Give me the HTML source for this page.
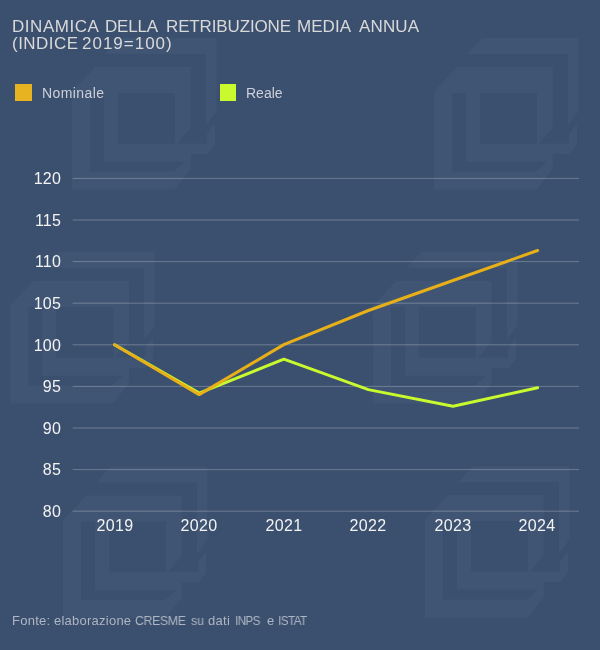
<!DOCTYPE html>
<html lang="it">
<head>
<meta charset="utf-8">
<title>Dinamica della retribuzione media annua</title>
<style>
  html, body { margin: 0; padding: 0; }
  body {
    width: 600px; height: 650px; overflow: hidden; position: relative;
    background: #3b4f6e;
    font-family: "Liberation Sans", sans-serif;
  }
  svg#bg { position: absolute; left: 0; top: 0; }
  .t { position: absolute; white-space: nowrap; line-height: 1; will-change: transform; }
  .title { font-size: 17px; color: #d9d9d9; }
  .leg { font-size: 14px; color: #cdd1d7; }
  .sw { position: absolute; width: 16.5px; height: 16.8px; top: 83.8px; }
  .yl { font-size: 16px; color: #f3f3f3; text-align: right; width: 50px; left: 10.8px; letter-spacing: 0.2px; }
  .xl { font-size: 16px; color: #f3f3f3; text-align: center; width: 60px; letter-spacing: 0.4px; }
  .foot { font-size: 13px; color: #aeb6c3; }
</style>
</head>
<body>
<svg id="bg" width="600" height="650" viewBox="0 0 600 650">
  <defs>
    <g id="wm" fill="#405574">
      <path d="M48 0H144.6V73.6L133.8 87.4V16H33Z"/>
      <path fill-rule="evenodd" d="M23 29H118.7V89.7L105 105.6H135V95.6L143 85.6V106.6L135.6 116H118.7V131.3L103 151.4H0V53.5Z M46 55H103V105.8H46Z M18 55H32V123.8H113L102 133.4H18Z"/>
    </g>
  </defs>
  <use href="#wm" x="72" y="38"/>
  <use href="#wm" x="434" y="38"/>
  <use href="#wm" x="10.3" y="252"/>
  <use href="#wm" x="373" y="252"/>
  <use href="#wm" x="63" y="466.5"/>
  <use href="#wm" x="425" y="466"/>
  <g stroke="#ffffff" stroke-opacity="0.25" stroke-width="1" fill="none">
    <path d="M72.6 178.4H579M72.6 220H579M72.6 261.6H579M72.6 303.2H579M72.6 344.8H579M72.6 386.4H579M72.6 428H579M72.6 469.6H579M72.6 511.2H579"/>
  </g>
  <polyline fill="none" stroke="#c8fa2d" stroke-width="3" stroke-linecap="round" stroke-linejoin="round"
    points="114.6,344.8 199.2,393.1 283.8,359.2 368.4,389.6 453,406.2 537.6,387.8"/>
  <polyline fill="none" stroke="#e7af18" stroke-width="3" stroke-linecap="round" stroke-linejoin="round"
    points="114.6,344.8 199.2,394.6 283.8,344.6 368.4,310.5 453,280.5 537.6,250.5"/>
</svg>


<div class="row"><span class="t title" style="top:17.5px;left:12.2px;letter-spacing:0.54px;">DINAMICA</span> <span class="t title" style="top:17.5px;left:105.3px;letter-spacing:-0.22px;">DELLA</span> <span class="t title" style="top:17.5px;left:165.5px;letter-spacing:-0.14px;">RETRIBUZIONE</span> <span class="t title" style="top:17.5px;left:297.4px;letter-spacing:0.05px;">MEDIA</span> <span class="t title" style="top:17.5px;left:358.6px;letter-spacing:0.15px;">ANNUA</span></div>
<div class="row"><span class="t title" style="top:35px;left:11.6px;letter-spacing:0.47px;">(INDICE</span> <span class="t title" style="top:35px;left:81.5px;letter-spacing:0.99px;">2019=100)</span></div>
<div class="row"><span class="t leg" style="top:86px;left:41.5px;letter-spacing:0.4px;">Nominale</span> <span class="t leg" style="top:86px;left:246px;">Reale</span></div>
<div class="row"><span class="t foot" style="top:614px;left:11.5px;letter-spacing:0.26px;">Fonte:</span> <span class="t foot" style="top:614px;left:54.1px;letter-spacing:0.24px;">elaborazione</span> <span class="t foot" style="top:614px;left:135.1px;letter-spacing:-0.4px;transform:scaleX(0.949);transform-origin:0 50%;">CRESME</span> <span class="t foot" style="top:614px;left:190.5px;transform:scaleX(0.946);transform-origin:0 50%;">su</span> <span class="t foot" style="top:614px;left:208.3px;letter-spacing:0.33px;">dati</span> <span class="t foot" style="top:614px;left:234.8px;letter-spacing:-0.7px;transform:scaleX(0.903);transform-origin:0 50%;">INPS</span> <span class="t foot" style="top:614px;left:266.7px;">e</span> <span class="t foot" style="top:614px;left:278.0px;letter-spacing:-0.7px;transform:scaleX(0.907);transform-origin:0 50%;">ISTAT</span></div>
<div class="sw" style="left:15.3px;background:#e8b320;"></div>
<div class="sw" style="left:219.8px;background:#c8fa2d;"></div>

<div class="t yl" style="top:171px;">120</div>
<div class="t yl" style="top:213px;">115</div>
<div class="t yl" style="top:254px;">110</div>
<div class="t yl" style="top:296px;">105</div>
<div class="t yl" style="top:337.5px;">100</div>
<div class="t yl" style="top:379px;">95</div>
<div class="t yl" style="top:421px;">90</div>
<div class="t yl" style="top:462px;">85</div>
<div class="t yl" style="top:504px;">80</div>

<div class="t xl" style="left:85.2px;top:518px;">2019</div>
<div class="t xl" style="left:169.4px;top:518px;">2020</div>
<div class="t xl" style="left:254.2px;top:518px;">2021</div>
<div class="t xl" style="left:338.2px;top:518px;">2022</div>
<div class="t xl" style="left:423.2px;top:518px;">2023</div>
<div class="t xl" style="left:507.4px;top:518px;">2024</div>

</body>
</html>
